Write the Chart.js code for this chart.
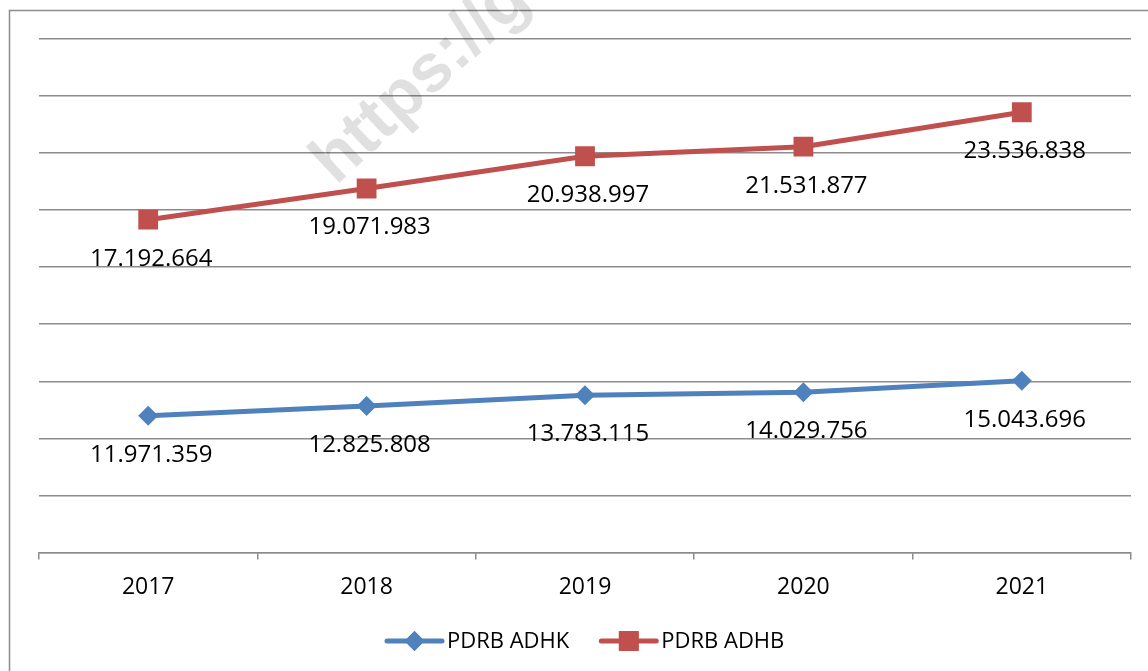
<!DOCTYPE html>
<html>
<head>
<meta charset="utf-8">
<script src="https://cdn.jsdelivr.net/npm/chart.js@4.4.1/dist/chart.umd.min.js"></script>
<style>
  html, body { margin: 0; padding: 0; background: #fff; }
  #wrap { width: 1148px; height: 671px; position: relative; }
</style>
</head>
<body>
<div id="wrap"><canvas id="c" width="1148" height="671"></canvas></div>
<script>
// ---- data ----
const categories = ['2017', '2018', '2019', '2020', '2021'];
const adhk = [11971359, 12825808, 13783115, 14029756, 15043696];
const adhb = [17192664, 19071983, 20938997, 21531877, 23536838];
const seriesNames = ['PDRB ADHK', 'PDRB ADHB'];

const FONT = '"Open Sans", "Liberation Sans", sans-serif';
const BLUE = '#4F81BD';
const RED = '#C0504D';

function fmt(v) {
  return String(v).replace(/\B(?=(\d{3})+(?!\d))/g, '.');
}

const frame = {
  id: 'frame',
  beforeDraw(chart) {
    const ctx = chart.ctx;
    ctx.save();
    ctx.fillStyle = '#fff';
    ctx.fillRect(0, 0, chart.width, chart.height);
    ctx.strokeStyle = '#8c8c8c';
    ctx.lineWidth = 1.5;
    ctx.strokeRect(9.5, 10.5, chart.width + 20, chart.height + 20);
    ctx.restore();
  }
};

const dataLabels = {
  id: 'dataLabels',
  afterDatasetsDraw(chart) {
    const ctx = chart.ctx;
    ctx.save();
    ctx.font = '24px ' + FONT;
    ctx.fillStyle = '#000';
    ctx.textAlign = 'center';
    ctx.textBaseline = 'middle';
    chart.data.datasets.forEach((ds, di) => {
      const meta = chart.getDatasetMeta(di);
      meta.data.forEach((pt, i) => {
        ctx.fillText(fmt(ds.data[i]), pt.x + 3, pt.y + 39);
      });
    });
    ctx.restore();
  }
};

const customLegend = {
  id: 'customLegend',
  afterDraw(chart) {
    const ctx = chart.ctx;
    ctx.save();
    ctx.font = '22px ' + FONT;
    ctx.textBaseline = 'middle';
    ctx.textAlign = 'left';
    const y = 641;
    const lineLen = 55, gap = 5, itemGap = 32;
    const items = chart.data.datasets.map(ds => ({
      label: ds.label, color: ds.borderColor, style: ds.pointStyle, r: ds.pointRadius
    }));
    items.forEach(it => { it.w = ctx.measureText(it.label).width; });
    let x = 387;
    items.forEach(it => {
      ctx.strokeStyle = it.color;
      ctx.lineWidth = 5;
      ctx.lineCap = 'round';
      ctx.beginPath();
      ctx.moveTo(x, y);
      ctx.lineTo(x + lineLen, y);
      ctx.stroke();
      ctx.fillStyle = it.color;
      Chart.helpers.drawPoint(ctx, { pointStyle: it.style, radius: it.r, borderWidth: 0, rotation: 0 }, x + lineLen / 2, y);
      ctx.fill();
      ctx.fillStyle = '#000';
      ctx.fillText(it.label, x + lineLen + gap, y + 1);
      x += lineLen + gap + it.w + itemGap;
    });
    ctx.restore();
  }
};

const watermark = {
  id: 'watermark',
  afterDraw(chart) {
    const ctx = chart.ctx;
    ctx.save();
    ctx.translate(336, 186);
    ctx.rotate(-43 * Math.PI / 180);
    ctx.font = 'bold 68px "Liberation Sans", sans-serif';
    ctx.fillStyle = 'rgba(0,0,0,0.12)';
    ctx.textBaseline = 'alphabetic';
    ctx.fillText('https://g', 0, 0);
    ctx.restore();
  }
};

new Chart(document.getElementById('c'), {
  type: 'line',
  data: {
    labels: categories,
    datasets: [
      {
        label: seriesNames[0],
        data: adhk,
        borderColor: BLUE,
        backgroundColor: BLUE,
        borderWidth: 5,
        pointStyle: 'rectRot',
        pointRadius: 10,
        pointHoverRadius: 10,
        pointBorderWidth: 0,
        fill: false,
        tension: 0
      },
      {
        label: seriesNames[1],
        data: adhb,
        borderColor: RED,
        backgroundColor: RED,
        borderWidth: 5,
        pointStyle: 'rect',
        pointRadius: 14,
        pointHoverRadius: 14,
        pointBorderWidth: 0,
        fill: false,
        tension: 0
      }
    ]
  },
  options: {
    responsive: false,
    animation: false,
    events: [],
    layout: { padding: { left: 39, right: 17, top: 39, bottom: 56 } },
    plugins: {
      legend: { display: false },
      tooltip: { enabled: false },
      title: { display: false }
    },
    scales: {
      x: {
        type: 'category',
        offset: true,
        grid: {
          offset: true,
          drawOnChartArea: false,
          drawTicks: true,
          tickLength: 7,
          color: '#8c8c8c',
          lineWidth: 1.5
        },
        border: { display: true, color: '#8c8c8c', width: 1.5 },
        ticks: {
          color: '#000',
          font: { family: FONT, size: 23 },
          padding: 14,
          maxRotation: 0
        }
      },
      y: {
        stacked: true,
        min: 0,
        max: 45000000,
        grid: {
          color: '#8c8c8c',
          lineWidth: 1.5,
          drawTicks: false
        },
        border: { display: false },
        ticks: { display: false, stepSize: 5000000 }
      }
    }
  },
  plugins: [frame, dataLabels, customLegend, watermark]
});
</script>
</body>
</html>
